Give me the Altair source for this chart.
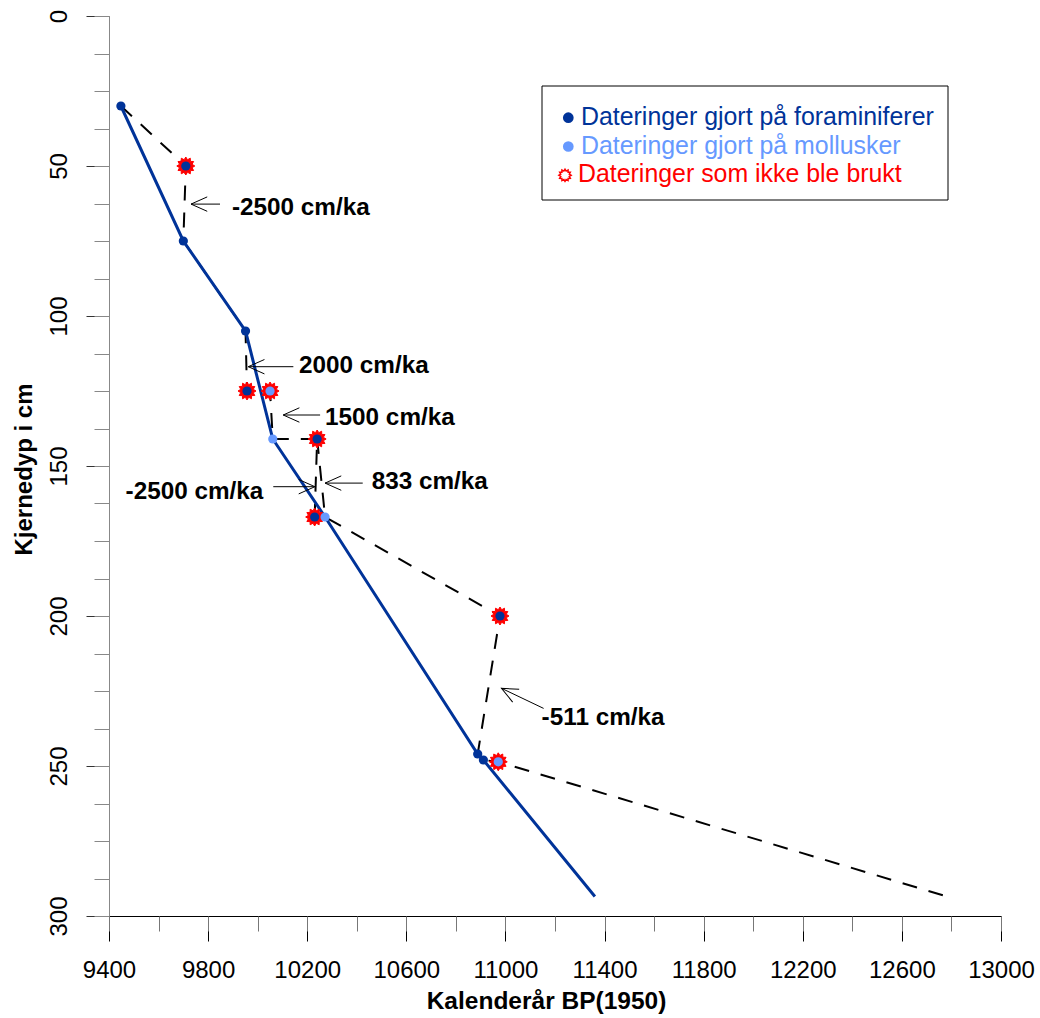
import math
import altair as alt
import pandas as pd

FONT = "Liberation Sans"
NAVY = "#003399"
LIGHT = "#6699FF"
RED = "#FF0000"

# ---- radiocarbon dates (calibrated age BP, core depth cm) ----
date_depth = [30, 50, 75, 105, 125, 125, 141, 141, 167, 167, 200, 246, 248, 248.6]
date_age = [9448, 9710, 9700, 9951, 9957, 10050, 10061, 10240, 10230, 10272, 10978, 10888, 10911, 10971]
date_material = ["foram", "foram", "foram", "foram", "foram", "moll", "moll",
                 "foram", "foram", "moll", "foram", "foram", "foram", "moll"]
date_rejected = [False, True, False, False, True, True, False, True, True, False, True, False, False, True]

# ---- accepted age model (blue line) ----
model_age = [9448, 9700, 9951, 10061, 10272, 10888, 10911, 11361]
model_depth = [30, 75, 105, 141, 167, 246, 248, 293.5]

# ---- dashed line through all dates ----
dash_age = [9448, 9710, 9700, 9951, 9957, 10050, 10061, 10240, 10230, 10272, 10978, 10888, 10911, 10971, 12774]
dash_depth = [30, 50, 75, 105, 125, 125, 141, 141, 167, 167, 200, 246, 248, 248.6, 293.3]
extra_age = [10240, 10272]
extra_depth = [141, 167]

# ---- sedimentation-rate annotations ----
ann_text = ["-2500 cm/ka", "2000 cm/ka", "1500 cm/ka", "833 cm/ka", "-2500 cm/ka", "-511 cm/ka"]
ann_x = [9896, 10167, 10272, 10460, 10023, 11146]
ann_y = [64, 116.6, 133.9, 155.4, 158.6, 234.1]
ann_align = ["left", "left", "left", "left", "right", "left"]
tip_x = [9731, 9962, 10103, 10272, 10231, 10984]
tip_y = [62.7, 116.9, 133.0, 155.7, 156.9, 224.1]
tail_x = [9848, 10144, 10252, 10424, 10063, 11154]
tail_y = [62.7, 116.9, 133.0, 155.7, 156.9, 230.8]
head_angle = [0, 0, 0, 0, 180, 27]

legend_labels = ["Dateringer gjort på foraminiferer", "Dateringer gjort på mollusker", "Dateringer som ikke ble brukt"]
legend_colors = [NAVY, LIGHT, RED]

x_major = list(range(9400, 13001, 400))
x_minor = list(range(9400, 13001, 200))
y_major = list(range(0, 301, 50))
y_minor = [i * 12.5 for i in range(25)]

# star shape (12 points)
pts = []
for k in range(24):
    a = math.pi * k / 12
    r = 1.0 if k % 2 == 0 else 0.72
    pts.append(f"{r * math.cos(a):.3f},{r * math.sin(a):.3f}")
STAR = "M" + "L".join(pts) + "Z"
ARROW = "M1.8,-0.8L0,0L1.8,0.8"

dates = pd.DataFrame({"age": date_age, "depth": date_depth,
                      "material": date_material, "rejected": date_rejected})
model = pd.DataFrame({"age": model_age, "depth": model_depth, "idx": range(len(model_age))})
dash = pd.concat([
    pd.DataFrame({"age": dash_age, "depth": dash_depth, "seg": "main", "idx": range(len(dash_age))}),
    pd.DataFrame({"age": extra_age, "depth": extra_depth, "seg": "extra", "idx": range(len(extra_age))}),
])
ann = pd.DataFrame({"text": ann_text, "age": ann_x, "depth": ann_y, "align": ann_align})
arrows = pd.DataFrame({"age": tip_x, "depth": tip_y, "age2": tail_x, "depth2": tail_y, "angle": head_angle})

xs = alt.Scale(domain=[9400, 13000], nice=False, zero=False)
ys = alt.Scale(domain=[0, 300], reverse=True, nice=False, zero=False)

x_major_axis = alt.Axis(values=x_major, orient="bottom", format="d", tickSize=25, tickColor="#000",
                        domainColor="#000", labelFontSize=24, labelFont=FONT, labelColor="#000",
                        labelPadding=17, labelFlush=False, labelOverlap=False, grid=False,
                        title="Kalenderår BP(1950)", titleFont=FONT, titleFontSize=24.5,
                        titleFontWeight="bold", titleColor="#000", titleX=437, titleY=92,
                        titleAlign="center", titleBaseline="alphabetic")
x_minor_axis = alt.Axis(values=x_minor, orient="bottom", tickSize=15, tickColor="#777",
                        labels=False, domain=False, grid=False, title=None)
y_major_axis = alt.Axis(values=y_major, orient="left", format="d", tickSize=23, tickColor="#333",
                        domainColor="#888", labelFontSize=24, labelFont=FONT, labelColor="#000",
                        labelAngle=270, labelAlign="center", labelBaseline="bottom",
                        labelPadding=15, labelFlush=False, labelOverlap=False, grid=False,
                        title="Kjernedyp i cm", titleFont=FONT, titleFontSize=24,
                        titleFontWeight="bold", titleColor="#000", titleX=-77.5, titleY=453,
                        titleAngle=270, titleAlign="center", titleBaseline="alphabetic")
y_minor_axis = alt.Axis(values=y_minor, orient="left", tickSize=15, tickColor="#888",
                        labels=False, domain=False, grid=False, title=None)

dashed = alt.Chart(dash).mark_line(color="black", strokeWidth=2, strokeDash=[15, 12]).encode(
    x=alt.X("age:Q", scale=xs, axis=x_major_axis),
    y=alt.Y("depth:Q", scale=ys, axis=y_major_axis),
    detail="seg:N",
    order="idx:Q",
)

blue = alt.Chart(model).mark_line(color=NAVY, strokeWidth=3).encode(
    x=alt.X("age:Q", scale=xs, axis=x_minor_axis),
    y=alt.Y("depth:Q", scale=ys, axis=y_minor_axis),
    order="idx:Q",
)

stars = alt.Chart(dates).transform_filter("datum.rejected").mark_point(
    shape=STAR, filled=True, fill=RED, stroke=RED, strokeWidth=1, size=324, opacity=1
).encode(
    x=alt.X("age:Q", scale=xs, axis=None),
    y=alt.Y("depth:Q", scale=ys, axis=None),
)

points = alt.Chart(dates).mark_circle(size=85, opacity=1).encode(
    x=alt.X("age:Q", scale=xs, axis=None),
    y=alt.Y("depth:Q", scale=ys, axis=None),
    color=alt.Color("material:N", scale=alt.Scale(domain=["foram", "moll"], range=[NAVY, LIGHT]), legend=None),
)

shafts = alt.Chart(arrows).mark_rule(color="black", strokeWidth=1).encode(
    x=alt.X("age:Q", scale=xs, axis=None),
    y=alt.Y("depth:Q", scale=ys, axis=None),
    x2="age2:Q",
    y2="depth2:Q",
)

heads = alt.Chart(arrows).mark_point(shape=ARROW, filled=False, stroke="black", strokeWidth=1,
                                     size=324, opacity=1).encode(
    x=alt.X("age:Q", scale=xs, axis=None),
    y=alt.Y("depth:Q", scale=ys, axis=None),
    angle=alt.Angle("angle:Q", scale=None),
)

texts = []
for align in ["left", "right"]:
    texts.append(
        alt.Chart(ann).transform_filter(f"datum.align == '{align}'").mark_text(
            align=align, baseline="middle", font=FONT, fontSize=24.3, fontWeight="bold", color="black"
        ).encode(
            x=alt.X("age:Q", scale=xs, axis=None),
            y=alt.Y("depth:Q", scale=ys, axis=None),
            text="text:N",
        )
    )

one = pd.DataFrame({"a": [0]})
legend_layers = [
    alt.Chart(one).mark_rect(fill="white", stroke="black", strokeWidth=1).encode(
        x=alt.value(433), x2=alt.value(839), y=alt.value(70), y2=alt.value(184)
    )
]
row_y = [101.7, 130.5, 159.3]
for i, (lab, col) in enumerate(zip(legend_labels, legend_colors)):
    if i < 2:
        sym = alt.Chart(one).mark_point(shape="circle", filled=True, color=col, size=115, opacity=1)
        sx = 459.3
    else:
        sym = alt.Chart(one).mark_point(shape=STAR, filled=False, stroke=col, strokeWidth=1.5,
                                        fill="white", size=150, opacity=1)
        sx = 456
    legend_layers.append(sym.encode(x=alt.value(sx), y=alt.value(row_y[i])))
    tx = 472 if i < 2 else 469
    legend_layers.append(
        alt.Chart(one).mark_text(align="left", baseline="middle", font=FONT, fontSize=24.9, color=col).encode(
            x=alt.value(tx), y=alt.value(row_y[i]), text=alt.value(lab)
        )
    )

chart = alt.layer(dashed, blue, stars, points, shafts, heads, *texts, *legend_layers).resolve_axis(
    x="independent", y="independent"
).properties(
    width=892, height=900,
    autosize=alt.AutoSizeParams(type="none"),
    padding={"left": 109, "top": 16, "right": 39, "bottom": 102},
    background="white",
).configure_view(stroke=None)

chart.save("out.html", embed_options={"renderer": "svg", "actions": False})
